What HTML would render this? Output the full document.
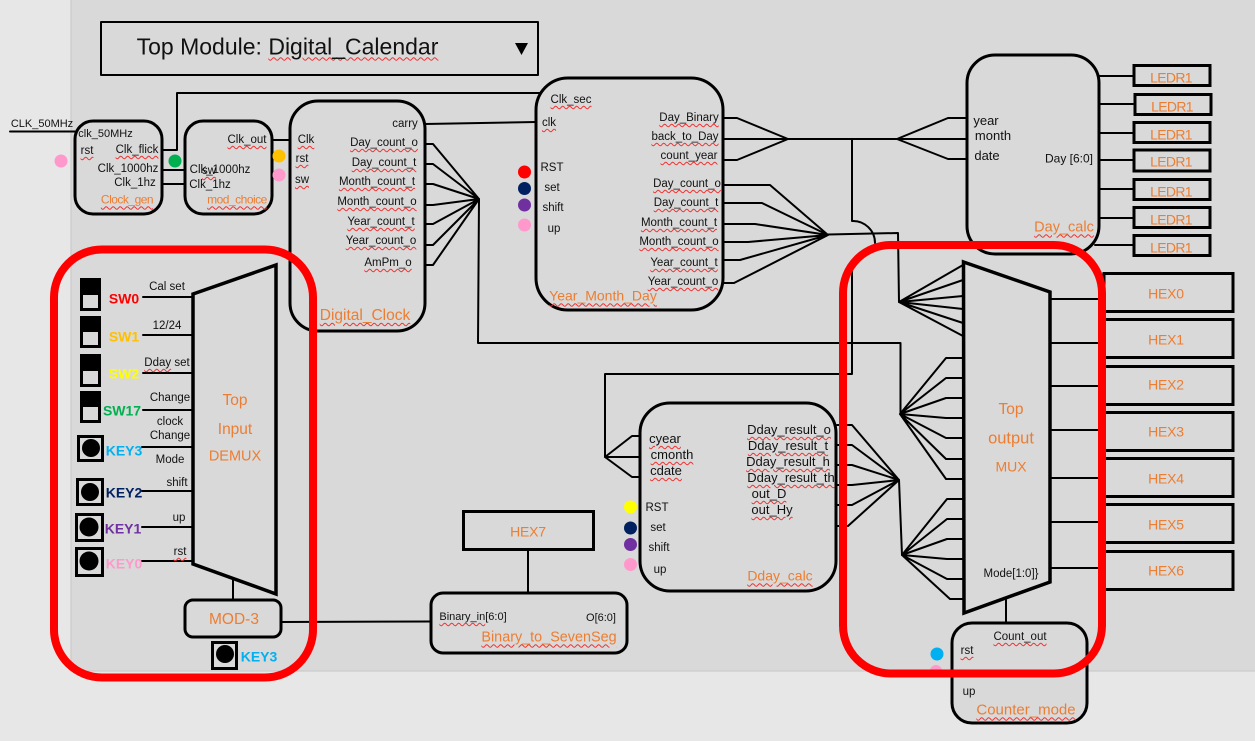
<!DOCTYPE html>
<html lang="en"><head><meta charset="utf-8"><title>Top Module: Digital_Calendar</title>
<style>
html,body{margin:0;padding:0;background:#e7e7e7}
#p{position:relative;width:1255px;height:741px;overflow:hidden;font-family:"Liberation Sans","Noto Sans CJK KR",sans-serif;color:#111;font-size:11.5px}
svg{position:absolute;left:0;top:0}
#p span.t{position:absolute;white-space:nowrap;line-height:1;transform:translate(-50%,-45%)}
.w{text-decoration:underline wavy #f03030 1px;text-underline-offset:2px}
.o{color:#ed7d31;font-size:15.5px}
.h{font-size:14px;letter-spacing:-.2px}
.l{font-size:14px;letter-spacing:-.7px}
.m{font-size:13px}
.b{font-weight:bold;font-size:14px}
</style></head><body><div id="p">
<svg width="1255" height="741" viewBox="0 0 1255 741">
<rect x="71" y="-2" width="1190" height="673" fill="#d9d9d9" stroke="#c6c6c6" stroke-width="1"/>
<g fill="none" stroke="#000" stroke-width="2" stroke-linejoin="round" stroke-linecap="round">
<rect x="101" y="22" width="437" height="53" stroke-width="2"/>
<!-- top left wires -->
<path d="M10 131.5H75M162 150H177V93H540M162 170H185M162 184H185M272 140H291M425 124L536 122"/>
<!-- digital clock fan -->
<path d="M417 144H433L479 199M417 164H433L479 199M417 184H433L479 199M417 205H433L479 199M417 224H433L479 199M417 245H433L479 199M417 265H433L479 199"/>
<path d="M479 199L478 343H900.5V414"/>
<!-- ymd fans -->
<path d="M723 118H737L788 139M723 139H788M723 160H737L788 139M788 139H897M897 139L948 118H966M897 139H966M897 139L948 159H966"/>
<path d="M723 185H770L828 235M723 203H762L828 235M723 224H755L828 235M723 242H748L828 235M723 260H740L828 235M723 283H734L828 235"/>
<path d="M828 234.5L898 233L899 302"/>
<path d="M852 139V221A22 22 0 0 1 875 243M852 268V374H605V457"/>
<path d="M605 457L632 436H640M605 457H640M605 457L632 477H640"/>
<!-- mux fans -->
<path d="M899 302L963 265M899 302L963 280M899 302L963 296M899 302L963 309M899 302L963 323M899 302L963 336"/>
<path d="M900 414L946 358H963M900 414L946 378H963M900 414L946 398H963M900 414L946 418H963M900 414L946 438H963M900 414L946 459H963M900 414L946 479H963"/>
<path d="M837 425H852L899 480M837 445H852L899 480M837 465H852L899 480M837 485H852L899 480M837 505H852L899 480M834 526H848L899 480"/>
<path d="M899 480L902 555"/>
<path d="M902 555L947 499H963M902 555L947 519H963M902 555L947 539H963M902 555L947 559H963M902 555L947 579H963M902 555L950 599H963"/>
<!-- outputs -->
<path d="M1050 299H1105M1050 343H1105M1050 386H1105M1050 430H1105M1050 478H1105M1050 522H1105M1050 568H1105"/>
<path d="M1099 76H1133M1099 104H1133M1099 133H1133M1099 160H1133M1099 189H1133M1099 218H1133M1095 245H1133"/>
<!-- demux inputs -->
<path d="M143 297H193M143 335H193M143 373H193M143 410H193M142 447H193M142 491H193M142 527H193M142 561H193"/>
<path d="M233 578V600M281 622L431 621.5M528 550V593M1006 600V623"/>
</g>
<g fill="#d9d9d9" stroke="#000" stroke-width="3">
<rect x="75" y="121" width="87" height="93" rx="18"/>
<rect x="185" y="121" width="87" height="93" rx="18"/>
<rect x="290" y="101" width="135" height="230" rx="28"/>
<rect x="536" y="78" width="187" height="232" rx="32"/>
<rect x="967" y="55" width="132" height="199" rx="28"/>
<rect x="640" y="403" width="196" height="188" rx="30"/>
<rect x="431" y="593" width="196" height="60" rx="12"/>
<rect x="952" y="623" width="135" height="100" rx="20"/>
<rect x="185" y="600" width="96" height="37" rx="8"/>
<rect x="463.500" y="511.500" width="130" height="38"/>
<rect x="1134" y="65.500" width="76" height="20"/><rect x="1135" y="94.500" width="76" height="20"/><rect x="1134" y="122.500" width="76" height="20"/><rect x="1134" y="150" width="76" height="21"/><rect x="1134" y="179.500" width="76" height="20"/><rect x="1134" y="207.500" width="76" height="20"/><rect x="1134" y="235.500" width="76" height="20"/>
<rect x="1104" y="273.500" width="129" height="38"/><rect x="1104" y="319.500" width="129" height="38"/><rect x="1104" y="366.500" width="129" height="38"/><rect x="1104" y="412.500" width="129" height="38"/><rect x="1104" y="458.500" width="129" height="38"/><rect x="1104" y="504.500" width="129" height="38"/><rect x="1104" y="551.500" width="129" height="38"/>
<polygon points="193,294 276,265 276,594 193,564" stroke-width="3.500"/>
<polygon points="963.500,262 1050,292 1050,582 964,613" stroke-width="3.500"/>
</g>
<polygon points="515,43 528,43 521.500,55" fill="#000"/>
<!-- switches -->
<g fill="#000"><rect x="80" y="278" width="21" height="33"/><rect x="80" y="316" width="21" height="32"/><rect x="80" y="354" width="21" height="33"/><rect x="80" y="391" width="21" height="32"/></g>
<g fill="#d9d9d9"><rect x="83" y="295" width="15" height="13"/><rect x="83" y="332" width="15" height="13"/><rect x="83" y="371" width="15" height="13"/><rect x="83" y="407" width="15" height="13"/></g>
<!-- keys -->
<g fill="none" stroke="#000" stroke-width="3"><rect x="78.500" y="436.500" width="24" height="24"/><rect x="77.500" y="479.500" width="25" height="25"/><rect x="76.500" y="514.500" width="26" height="26"/><rect x="76.500" y="548.500" width="26" height="27"/><rect x="212.500" y="642.500" width="24" height="26"/></g>
<g fill="#000"><circle cx="91" cy="448" r="9"/><circle cx="90" cy="492" r="9"/><circle cx="89" cy="527" r="9.500"/><circle cx="89" cy="561" r="9.500"/><circle cx="225" cy="654" r="9"/></g>
<!-- dots -->
<circle cx="61" cy="161" r="6.500" fill="#ff99cc"/><circle cx="175" cy="161" r="6.500" fill="#00b050"/><circle cx="279" cy="156" r="6.500" fill="#ffc000"/><circle cx="279" cy="175" r="6.500" fill="#ff99cc"/>
<circle cx="524.500" cy="172" r="6.500" fill="#ff0000"/><circle cx="524.500" cy="188.500" r="6.500" fill="#002060"/><circle cx="524.500" cy="205" r="6.500" fill="#7030a0"/><circle cx="524.500" cy="225" r="6.500" fill="#ff99cc"/>
<circle cx="630.500" cy="507" r="6.500" fill="#ffff00"/><circle cx="630.500" cy="528" r="6.500" fill="#002060"/><circle cx="630.500" cy="544.500" r="6.500" fill="#7030a0"/><circle cx="630.500" cy="564.500" r="6.500" fill="#ff99cc"/>
<circle cx="937" cy="654" r="6.500" fill="#00b0f0"/><circle cx="936" cy="671" r="6" fill="#ff99cc"/>
<!-- red frames -->
<rect x="54" y="249.500" width="259" height="428" rx="48" fill="none" stroke="#ff0000" stroke-width="8"/>
<rect x="843" y="245" width="259" height="428.500" rx="48" fill="none" stroke="#ff0000" stroke-width="8"/>
</svg>

<span class="t" style="left:287.500px;top:46px;font-size:23px">Top Module: <span class="w">Digital_Calendar</span></span>
<span class="t" style="left:42px;top:124px;font-size:11px">CLK_50MHz</span>
<span class="t" style="left:105.500px;top:134px;font-size:11px">clk_50MHz</span>
<span class="t w" style="left:87px;top:151px">rst</span>
<span class="t w" style="left:137px;top:150px">Clk_flick</span>
<span class="t" style="left:128px;top:169px">Clk_1000hz</span>
<span class="t" style="left:135px;top:183px">Clk_1hz</span>
<span class="t o w" style="left:127px;top:199px;font-size:12px;letter-spacing:-.5px">Clock_gen</span>
<span class="t w" style="left:247px;top:140px">Clk_out</span>
<span class="t" style="left:220px;top:170px">Clk_1000hz</span>
<span class="t w" style="left:209px;top:171px">sw</span>
<span class="t" style="left:210px;top:185px">Clk_1hz</span>
<span class="t o w" style="left:237px;top:199px;font-size:12px;letter-spacing:-.5px">mod_choice</span>
<span class="t w" style="left:306px;top:140px">Clk</span>
<span class="t w" style="left:302px;top:159px">rst</span>
<span class="t w" style="left:302px;top:180px">sw</span>
<span class="t" style="left:405px;top:124px">carry</span>
<span class="t w" style="left:384px;top:143px">Day_count_o</span>
<span class="t w" style="left:384px;top:163px">Day_count_t</span>
<span class="t w" style="left:377px;top:182px">Month_count_t</span>
<span class="t w" style="left:377px;top:202px">Month_count_o</span>
<span class="t w" style="left:381px;top:222px">Year_count_t</span>
<span class="t w" style="left:381px;top:241px">Year_count_o</span>
<span class="t w" style="left:388px;top:263px">AmPm_o</span>
<span class="t o w" style="left:365px;top:315px">Digital_Clock</span>

<span class="t" style="left:167px;top:287px">Cal set</span>
<span class="t" style="left:167px;top:326px">12/24</span>
<span class="t" style="left:167px;top:363px"><span class="w">Dday</span> set</span>
<span class="t" style="left:170px;top:398px">Change</span>
<span class="t" style="left:170px;top:422px">clock</span>
<span class="t" style="left:170px;top:436px">Change</span>
<span class="t" style="left:170px;top:460px">Mode</span>
<span class="t" style="left:177px;top:483px">shift</span>
<span class="t" style="left:179px;top:518px">up</span>
<span class="t w" style="left:180px;top:552px">rst</span>
<span class="t b" style="left:124px;top:298px;color:#ff0000">SW0</span>
<span class="t b" style="left:124px;top:336px;color:#ffc000">SW1</span>
<span class="t b" style="left:124px;top:373px;color:#ffff00">SW2</span>
<span class="t b" style="left:122px;top:410px;color:#00b050">SW17</span>
<span class="t b" style="left:124px;top:450px;color:#00b0f0">KEY3</span>
<span class="t b" style="left:124px;top:492px;color:#002060">KEY2</span>
<span class="t b" style="left:123px;top:528px;color:#7030a0">KEY1</span>
<span class="t b" style="left:124px;top:563px;color:#ff99cc">KEY0</span>
<span class="t b" style="left:259px;top:656px;color:#00b0f0">KEY3</span>
<span class="t o" style="left:235px;top:400px">Top</span>
<span class="t o" style="left:235px;top:429px">Input</span>
<span class="t o" style="left:235px;top:456px;font-size:14.500px">DEMUX</span>
<span class="t o" style="left:234px;top:619px">MOD-3</span>

<span class="t w" style="left:571px;top:100px">Clk_sec</span>
<span class="t w" style="left:549px;top:123px">clk</span>
<span class="t" style="left:552px;top:168px">RST</span>
<span class="t" style="left:552px;top:188px">set</span>
<span class="t" style="left:553px;top:208px">shift</span>
<span class="t" style="left:554px;top:229px">up</span>
<span class="t w" style="left:689px;top:118px">Day_Binary</span>
<span class="t w" style="left:685px;top:137px">back_to_Day</span>
<span class="t w" style="left:689px;top:156px">count_year</span>
<span class="t w" style="left:687px;top:184px">Day_count_o</span>
<span class="t w" style="left:686px;top:203px">Day_count_t</span>
<span class="t w" style="left:679px;top:223px">Month_count_t</span>
<span class="t w" style="left:679px;top:242px">Month_count_o</span>
<span class="t w" style="left:684px;top:263px">Year_count_t</span>
<span class="t w" style="left:683px;top:282px">Year_count_o</span>
<span class="t o w" style="left:603px;top:295px;font-size:14px">Year_Month_Day</span>

<span class="t m" style="left:986px;top:120px">year</span>
<span class="t m" style="left:993px;top:135px">month</span>
<span class="t m" style="left:987px;top:155px">date</span>
<span class="t" style="left:1069px;top:158px;font-size:12px">Day [6:0]</span>
<span class="t o w" style="left:1064px;top:227px;font-size:14.500px">Day_calc</span>
<span class="t o l" style="left:1171px;top:77px">LEDR1</span>
<span class="t o l" style="left:1172px;top:106px">LEDR1</span>
<span class="t o l" style="left:1171px;top:134px">LEDR1</span>
<span class="t o l" style="left:1171px;top:161px">LEDR1</span>
<span class="t o l" style="left:1171px;top:191px">LEDR1</span>
<span class="t o l" style="left:1171px;top:219px">LEDR1</span>
<span class="t o l" style="left:1171px;top:247px">LEDR1</span>
<span class="t o h" style="left:1166px;top:293px">HEX0</span>
<span class="t o h" style="left:1166px;top:339px">HEX1</span>
<span class="t o h" style="left:1166px;top:384px">HEX2</span>
<span class="t o h" style="left:1166px;top:431px">HEX3</span>
<span class="t o h" style="left:1166px;top:478px">HEX4</span>
<span class="t o h" style="left:1166px;top:524px">HEX5</span>
<span class="t o h" style="left:1166px;top:570px">HEX6</span>
<span class="t o" style="left:1011px;top:409px">Top</span>
<span class="t o" style="left:1011px;top:438px;font-size:16.500px">output</span>
<span class="t o" style="left:1011px;top:466px;font-size:14px">MUX</span>
<span class="t" style="left:1011px;top:574px">Mode[1:0]}</span>
<span class="t w" style="left:1020px;top:637px">Count_out</span>
<span class="t w" style="left:967px;top:651px">rst</span>
<span class="t" style="left:969px;top:692px">up</span>
<span class="t o w" style="left:1026px;top:709px;font-size:15px">Counter_mode</span>

<span class="t m w" style="left:665px;top:438px">cyear</span>
<span class="t m w" style="left:672px;top:454px">cmonth</span>
<span class="t m w" style="left:666px;top:470px">cdate</span>
<span class="t" style="left:657px;top:508px">RST</span>
<span class="t" style="left:658px;top:528px">set</span>
<span class="t" style="left:659px;top:548px">shift</span>
<span class="t" style="left:660px;top:570px">up</span>
<span class="t m w" style="left:789px;top:429px">Dday_result_o</span>
<span class="t m w" style="left:788px;top:445px">Dday_result_t</span>
<span class="t m w" style="left:788px;top:461px">Dday_result_h</span>
<span class="t m w" style="left:791px;top:477px">Dday_result_th</span>
<span class="t m w" style="left:769px;top:493px">out_D</span>
<span class="t m w" style="left:772px;top:509px">out_Hy</span>
<span class="t o w" style="left:780px;top:575px;font-size:14px">Dday_calc</span>
<span class="t o h" style="left:528px;top:531px">HEX7</span>
<span class="t" style="left:473px;top:617px;font-size:11px"><span class="w">Binary_in</span>[6:0]</span>
<span class="t" style="left:601px;top:618px;font-size:11px">O[6:0]</span>
<span class="t o w" style="left:549px;top:637px;font-size:14.400px">Binary_to_SevenSeg</span>
</div></body></html>
